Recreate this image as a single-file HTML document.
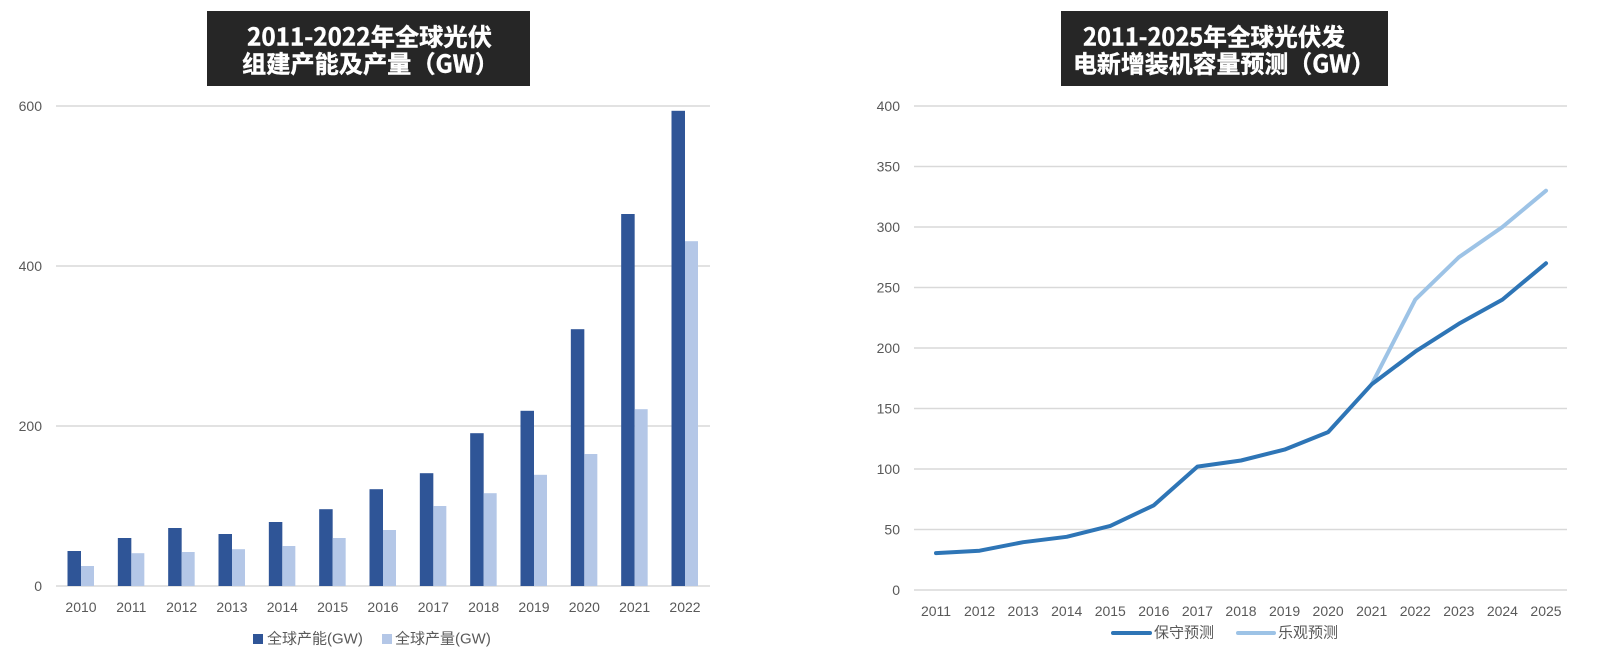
<!DOCTYPE html>
<html>
<head>
<meta charset="utf-8">
<style>
  html,body{margin:0;padding:0;background:#fff;}
  svg{display:block;}
  .tk{font-family:"Liberation Sans","Noto Sans CJK SC",sans-serif;font-size:14px;fill:#595959;}
  .lg{font-family:"Liberation Sans","Noto Sans CJK SC",sans-serif;font-size:15px;fill:#595959;}
  .tt{font-family:"Noto Sans CJK SC","Liberation Sans",sans-serif;font-size:24px;font-weight:bold;fill:#ffffff;stroke:#ffffff;stroke-width:0.4px;}
</style>
</head>
<body>
<svg width="1600" height="659" viewBox="0 0 1600 659" xmlns="http://www.w3.org/2000/svg">
  <rect x="0" y="0" width="1600" height="659" fill="#ffffff"/>

  <!-- ===== LEFT CHART ===== -->
  <rect x="207" y="11" width="323" height="75" fill="#262626"/>
  <text class="tt" x="247" y="35" dominant-baseline="central" textLength="245" lengthAdjust="spacingAndGlyphs">2011-2022年全球光伏</text>
  <text class="tt" x="242" y="62" dominant-baseline="central" textLength="257" lengthAdjust="spacingAndGlyphs">组建产能及产量（GW）</text>

  <g stroke="#d9d9d9" stroke-width="1.5">
    <line x1="56" y1="106" x2="710" y2="106"/>
    <line x1="56" y1="266" x2="710" y2="266"/>
    <line x1="56" y1="426" x2="710" y2="426"/>
    <line x1="56" y1="586" x2="710" y2="586"/>
  </g>
  <g class="tk" text-anchor="end" dominant-baseline="central">
    <text x="42" y="106">600</text>
    <text x="42" y="266">400</text>
    <text x="42" y="426">200</text>
    <text x="42" y="586">0</text>
  </g>

  <g fill="#2F5597">
    <rect x="67.5" y="551" width="13.5" height="35"/>
    <rect x="117.83" y="538" width="13.5" height="48"/>
    <rect x="168.17" y="528" width="13.5" height="58"/>
    <rect x="218.5" y="534" width="13.5" height="52"/>
    <rect x="268.83" y="522" width="13.5" height="64"/>
    <rect x="319.17" y="509.2" width="13.5" height="76.8"/>
    <rect x="369.5" y="489.2" width="13.5" height="96.8"/>
    <rect x="419.83" y="473.2" width="13.5" height="112.8"/>
    <rect x="470.17" y="433.2" width="13.5" height="152.8"/>
    <rect x="520.5" y="410.8" width="13.5" height="175.2"/>
    <rect x="570.83" y="329.2" width="13.5" height="256.8"/>
    <rect x="621.17" y="214" width="13.5" height="372"/>
    <rect x="671.5" y="110.8" width="13.5" height="475.2"/>
  </g>
  <g fill="#B4C7E7">
    <rect x="81" y="566" width="13" height="20"/>
    <rect x="131.33" y="553.2" width="13" height="32.8"/>
    <rect x="181.67" y="552" width="13" height="34"/>
    <rect x="232" y="549.2" width="13" height="36.8"/>
    <rect x="282.33" y="546" width="13" height="40"/>
    <rect x="332.67" y="538" width="13" height="48"/>
    <rect x="383" y="530" width="13" height="56"/>
    <rect x="433.33" y="506" width="13" height="80"/>
    <rect x="483.67" y="493.2" width="13" height="92.8"/>
    <rect x="534" y="474.8" width="13" height="111.2"/>
    <rect x="584.33" y="454" width="13" height="132"/>
    <rect x="634.67" y="409.2" width="13" height="176.8"/>
    <rect x="685" y="241.2" width="13" height="344.8"/>
  </g>

  <g class="tk" text-anchor="middle" dominant-baseline="central">
    <text x="81" y="607">2010</text>
    <text x="131.33" y="607">2011</text>
    <text x="181.67" y="607">2012</text>
    <text x="232" y="607">2013</text>
    <text x="282.33" y="607">2014</text>
    <text x="332.67" y="607">2015</text>
    <text x="383" y="607">2016</text>
    <text x="433.33" y="607">2017</text>
    <text x="483.67" y="607">2018</text>
    <text x="534" y="607">2019</text>
    <text x="584.33" y="607">2020</text>
    <text x="634.67" y="607">2021</text>
    <text x="685" y="607">2022</text>
  </g>

  <rect x="253" y="634" width="10" height="10" fill="#2F5597"/>
  <text class="lg" x="267" y="639" dominant-baseline="central">全球产能(GW)</text>
  <rect x="382" y="634" width="10" height="10" fill="#B4C7E7"/>
  <text class="lg" x="395" y="639" dominant-baseline="central">全球产量(GW)</text>

  <!-- ===== RIGHT CHART ===== -->
  <rect x="1061" y="11" width="327" height="75" fill="#262626"/>
  <text class="tt" x="1083" y="35" dominant-baseline="central" textLength="262" lengthAdjust="spacingAndGlyphs">2011-2025年全球光伏发</text>
  <text class="tt" x="1073" y="62" dominant-baseline="central" textLength="302" lengthAdjust="spacingAndGlyphs">电新增装机容量预测（GW）</text>

  <g stroke="#d9d9d9" stroke-width="1.5">
    <line x1="914" y1="106" x2="1567" y2="106"/>
    <line x1="914" y1="166.5" x2="1567" y2="166.5"/>
    <line x1="914" y1="227" x2="1567" y2="227"/>
    <line x1="914" y1="287.5" x2="1567" y2="287.5"/>
    <line x1="914" y1="348" x2="1567" y2="348"/>
    <line x1="914" y1="408.5" x2="1567" y2="408.5"/>
    <line x1="914" y1="469" x2="1567" y2="469"/>
    <line x1="914" y1="529.5" x2="1567" y2="529.5"/>
    <line x1="914" y1="590" x2="1567" y2="590"/>
  </g>
  <g class="tk" text-anchor="end" dominant-baseline="central">
    <text x="900" y="106">400</text>
    <text x="900" y="166.5">350</text>
    <text x="900" y="227">300</text>
    <text x="900" y="287.5">250</text>
    <text x="900" y="348">200</text>
    <text x="900" y="408.5">150</text>
    <text x="900" y="469">100</text>
    <text x="900" y="529.5">50</text>
    <text x="900" y="590">0</text>
  </g>

  <polyline fill="none" stroke="#9DC3E6" stroke-width="4" stroke-linecap="round" stroke-linejoin="round"
    points="1371.7,384.3 1415.27,299.6 1458.84,257.25 1502.41,227 1546,190.7"/>
  <polyline fill="none" stroke="#2E75B6" stroke-width="4" stroke-linecap="round" stroke-linejoin="round"
    points="936,553.1 979.57,550.7 1023.14,542.2 1066.71,536.8 1110.28,525.9 1153.85,505.3 1197.42,466.6 1240.99,460.5 1284.56,449.6 1328.13,432.1 1371.7,384.3 1415.27,351.6 1458.84,323.8 1502.41,299.6 1546,263.3"/>

  <g class="tk" text-anchor="middle" dominant-baseline="central">
    <text x="936" y="611">2011</text>
    <text x="979.57" y="611">2012</text>
    <text x="1023.14" y="611">2013</text>
    <text x="1066.71" y="611">2014</text>
    <text x="1110.28" y="611">2015</text>
    <text x="1153.85" y="611">2016</text>
    <text x="1197.42" y="611">2017</text>
    <text x="1240.99" y="611">2018</text>
    <text x="1284.56" y="611">2019</text>
    <text x="1328.13" y="611">2020</text>
    <text x="1371.7" y="611">2021</text>
    <text x="1415.27" y="611">2022</text>
    <text x="1458.84" y="611">2023</text>
    <text x="1502.41" y="611">2024</text>
    <text x="1546" y="611">2025</text>
  </g>

  <line x1="1113" y1="633" x2="1150" y2="633" stroke="#2E75B6" stroke-width="4" stroke-linecap="round"/>
  <text class="lg" x="1154" y="633" dominant-baseline="central">保守预测</text>
  <line x1="1238" y1="633" x2="1274" y2="633" stroke="#9DC3E6" stroke-width="4" stroke-linecap="round"/>
  <text class="lg" x="1278" y="633" dominant-baseline="central">乐观预测</text>
</svg>
</body>
</html>
